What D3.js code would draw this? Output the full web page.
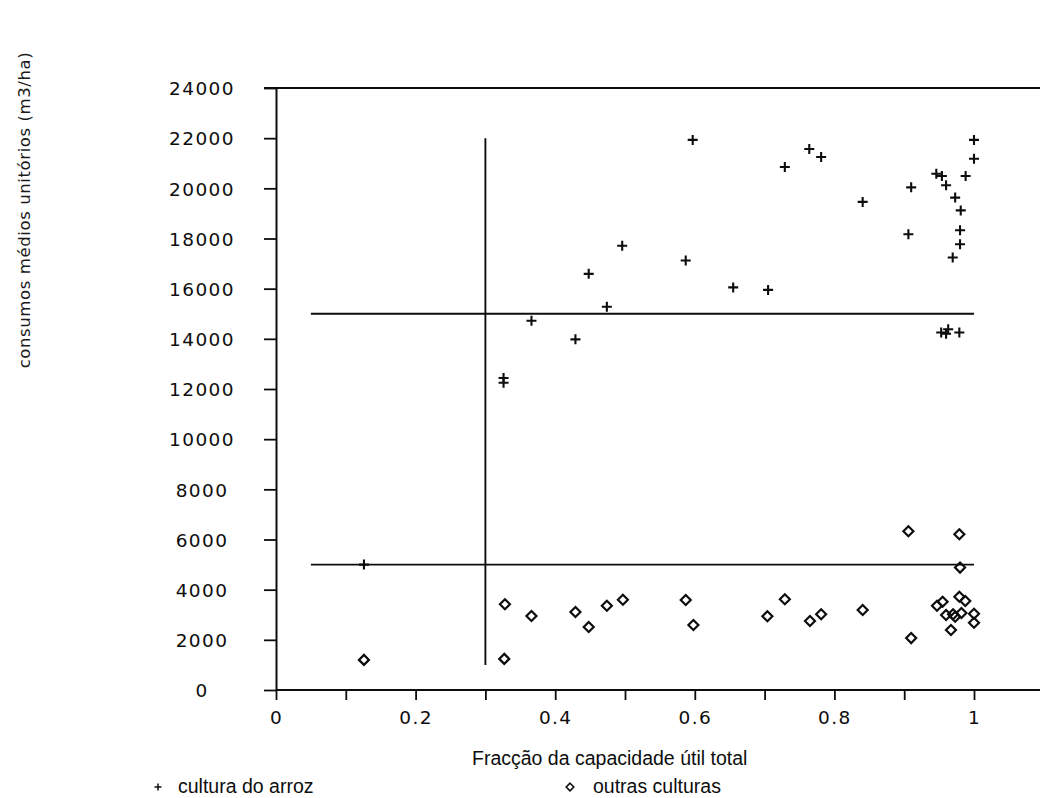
<!DOCTYPE html>
<html>
<head>
<meta charset="utf-8">
<script src="https://cdn.jsdelivr.net/npm/d3@7"></script>
<style>
  html, body { margin: 0; padding: 0; background: #fff; }
  svg { display: block; }
</style>
</head>
<body>
<svg id="chart" width="1040" height="798"></svg>
<script>
// Fraction of useful capacity (x) vs mean unit consumption in m3/ha (y)
const riceX = [0.126, 0.326, 0.326, 0.366, 0.429, 0.448, 0.474, 0.496, 0.587, 0.597,
               0.655, 0.705, 0.729, 0.764, 0.781, 0.8405, 0.906, 0.910, 0.946, 0.954,
               0.960, 0.9695, 0.973, 0.980, 0.980, 0.981, 0.988, 1.0, 1.0,
               0.953, 0.960, 0.963, 0.979];
const riceY = [5000, 12440, 12250, 14720, 13980, 16590, 15280, 17710, 17120, 21930,
               16050, 15950, 20850, 21570, 21250, 19460, 18170, 20040, 20580, 20490,
               20120, 17240, 19630, 17770, 18330, 19120, 20490, 21180, 21930,
               14250, 14200, 14380, 14250];

const otherX = [0.126, 0.328, 0.327, 0.366, 0.429, 0.448, 0.474, 0.497, 0.587, 0.598,
                0.704, 0.729, 0.765, 0.781, 0.8405, 0.906, 0.979, 0.980, 0.910, 0.947,
                0.955, 0.979, 0.9875, 0.960, 0.970, 0.973, 0.982, 0.967, 1.0, 1.0];
const otherY = [1200, 3420, 1240, 2950, 3110, 2510, 3360, 3600, 3590, 2590,
                2940, 3620, 2750, 3020, 3190, 6330, 6210, 4880, 2070, 3360,
                3520, 3720, 3550, 2990, 3020, 2920, 3070, 2390, 3040, 2680];

const xTicks = [0, 0.1, 0.2, 0.3, 0.4, 0.5, 0.6, 0.7, 0.8, 0.9, 1.0];
const xTickLabels = ["0", "", "0.2", "", "0.4", "", "0.6", "", "0.8", "", "1"];
const yTicks = [0, 2000, 4000, 6000, 8000, 10000, 12000, 14000, 16000, 18000, 20000, 22000, 24000];

// Reference lines: two consumption thresholds and one capacity threshold
const hLineValues = [15000, 5000];
const hLineFrom = 0.05, hLineTo = 1.0;
const vLineValue = 0.3;
const vLineFrom = 1000, vLineTo = 22000;

const seriesNames = ["cultura do arroz", "outras culturas"];
const xTitle = "Fracção da capacidade útil total";
const yTitle = "consumos médios unitórios (m3/ha)";

const svg = d3.select("#chart");
const W = 1040;

const x = d3.scaleLinear().domain([0, 1]).range([276, 974]);
const y = d3.scaleLinear().domain([0, 24000]).range([690, 88]);

const ink = "#0d0d0d";
const tickFont = "'DejaVu Sans', sans-serif";
const textFont = "'Liberation Sans', Arial, sans-serif";

// Frame line along the top value
svg.append("line")
  .attr("x1", x(0) - 12).attr("x2", W)
  .attr("y1", y(24000)).attr("y2", y(24000))
  .attr("stroke", ink).attr("stroke-width", 2);

// x axis: line runs to the right edge, ticks every 0.1
const xAxisG = svg.append("g").attr("transform", `translate(0,${y(0)})`);
xAxisG.append("line")
  .attr("x1", x(0)).attr("x2", W).attr("y1", 0).attr("y2", 0)
  .attr("stroke", ink).attr("stroke-width", 2);
xAxisG.call(d3.axisBottom(x).tickValues(xTicks).tickSize(10).tickSizeOuter(0)
    .tickFormat((d, i) => xTickLabels[i]))
  .call(g => g.select(".domain").remove())
  .call(g => g.selectAll(".tick line").attr("stroke", ink).attr("stroke-width", 1.8))
  .call(g => g.selectAll(".tick text")
    .attr("y", 0).attr("dy", 0)
    .attr("transform", "translate(0,34)")
    .attr("fill", ink)
    .style("font-family", tickFont).style("font-size", "18.5px").style("letter-spacing", "1.4px"));

// y axis with ticks pointing left, labels centred in their column
const yAxisG = svg.append("g").attr("transform", `translate(${x(0)},0)`);
yAxisG.call(d3.axisLeft(y).tickValues(yTicks).tickSize(12).tickSizeOuter(0).tickFormat(d3.format("d")))
  .call(g => g.select(".domain").attr("stroke", ink).attr("stroke-width", 2))
  .call(g => g.selectAll(".tick line").attr("stroke", ink).attr("stroke-width", 1.8))
  .call(g => g.selectAll(".tick text")
    .attr("x", 202 - x(0)).attr("text-anchor", "middle").attr("dy", "0.36em")
    .attr("fill", ink)
    .style("font-family", tickFont).style("font-size", "18.5px").style("letter-spacing", "1.4px"));

// Threshold lines
svg.selectAll("line.hthr").data(hLineValues).join("line")
  .attr("class", "hthr")
  .attr("x1", x(hLineFrom)).attr("x2", x(hLineTo))
  .attr("y1", d => y(d)).attr("y2", d => y(d))
  .attr("stroke", ink).attr("stroke-width", 1.9);
svg.append("line")
  .attr("x1", x(vLineValue)).attr("x2", x(vLineValue))
  .attr("y1", y(vLineTo)).attr("y2", y(vLineFrom))
  .attr("stroke", ink).attr("stroke-width", 1.9);

// Marker shapes
const plusPath = s => `M${-s},0H${s}M0,${-s}V${s}`;
const diamondPath = s => `M0,${-s}L${s},0L0,${s}L${-s},0Z`;

const rice = riceX.map((v, i) => ({ x: v, y: riceY[i] }));
const other = otherX.map((v, i) => ({ x: v, y: otherY[i] }));

svg.append("g").selectAll("path").data(rice).join("path")
  .attr("transform", d => `translate(${x(d.x)},${y(d.y)})`)
  .attr("d", plusPath(5))
  .attr("fill", "none").attr("stroke", ink).attr("stroke-width", 2.1);

svg.append("g").selectAll("path").data(other).join("path")
  .attr("transform", d => `translate(${x(d.x)},${y(d.y)})`)
  .attr("d", diamondPath(5))
  .attr("fill", "none").attr("stroke", ink).attr("stroke-width", 2.2);

// Axis titles
svg.append("text")
  .attr("x", 472).attr("y", 765)
  .attr("fill", ink)
  .style("font-family", textFont).style("font-size", "19.5px")
  .text(xTitle);

svg.append("text")
  .attr("transform", "translate(30,210) rotate(-90)")
  .attr("text-anchor", "middle")
  .attr("fill", "#1a1a1a")
  .style("font-family", "'DejaVu Sans', sans-serif").style("font-size", "16.5px")
  .style("letter-spacing", "0.6px")
  .text(yTitle);

// Legend
const legend = [
  { name: seriesNames[0], mx: 158, tx: 178, shape: plusPath(3.5), w: 1.5 },
  { name: seriesNames[1], mx: 570, tx: 593, shape: diamondPath(3.8), w: 1.6 }
];
const lg = svg.append("g").selectAll("g").data(legend).join("g");
lg.append("path")
  .attr("transform", d => `translate(${d.mx},787)`)
  .attr("d", d => d.shape)
  .attr("fill", "none").attr("stroke", ink).attr("stroke-width", d => d.w);
lg.append("text")
  .attr("x", d => d.tx).attr("y", 793)
  .attr("fill", ink)
  .style("font-family", textFont).style("font-size", "19.5px")
  .text(d => d.name);
</script>
</body>
</html>
